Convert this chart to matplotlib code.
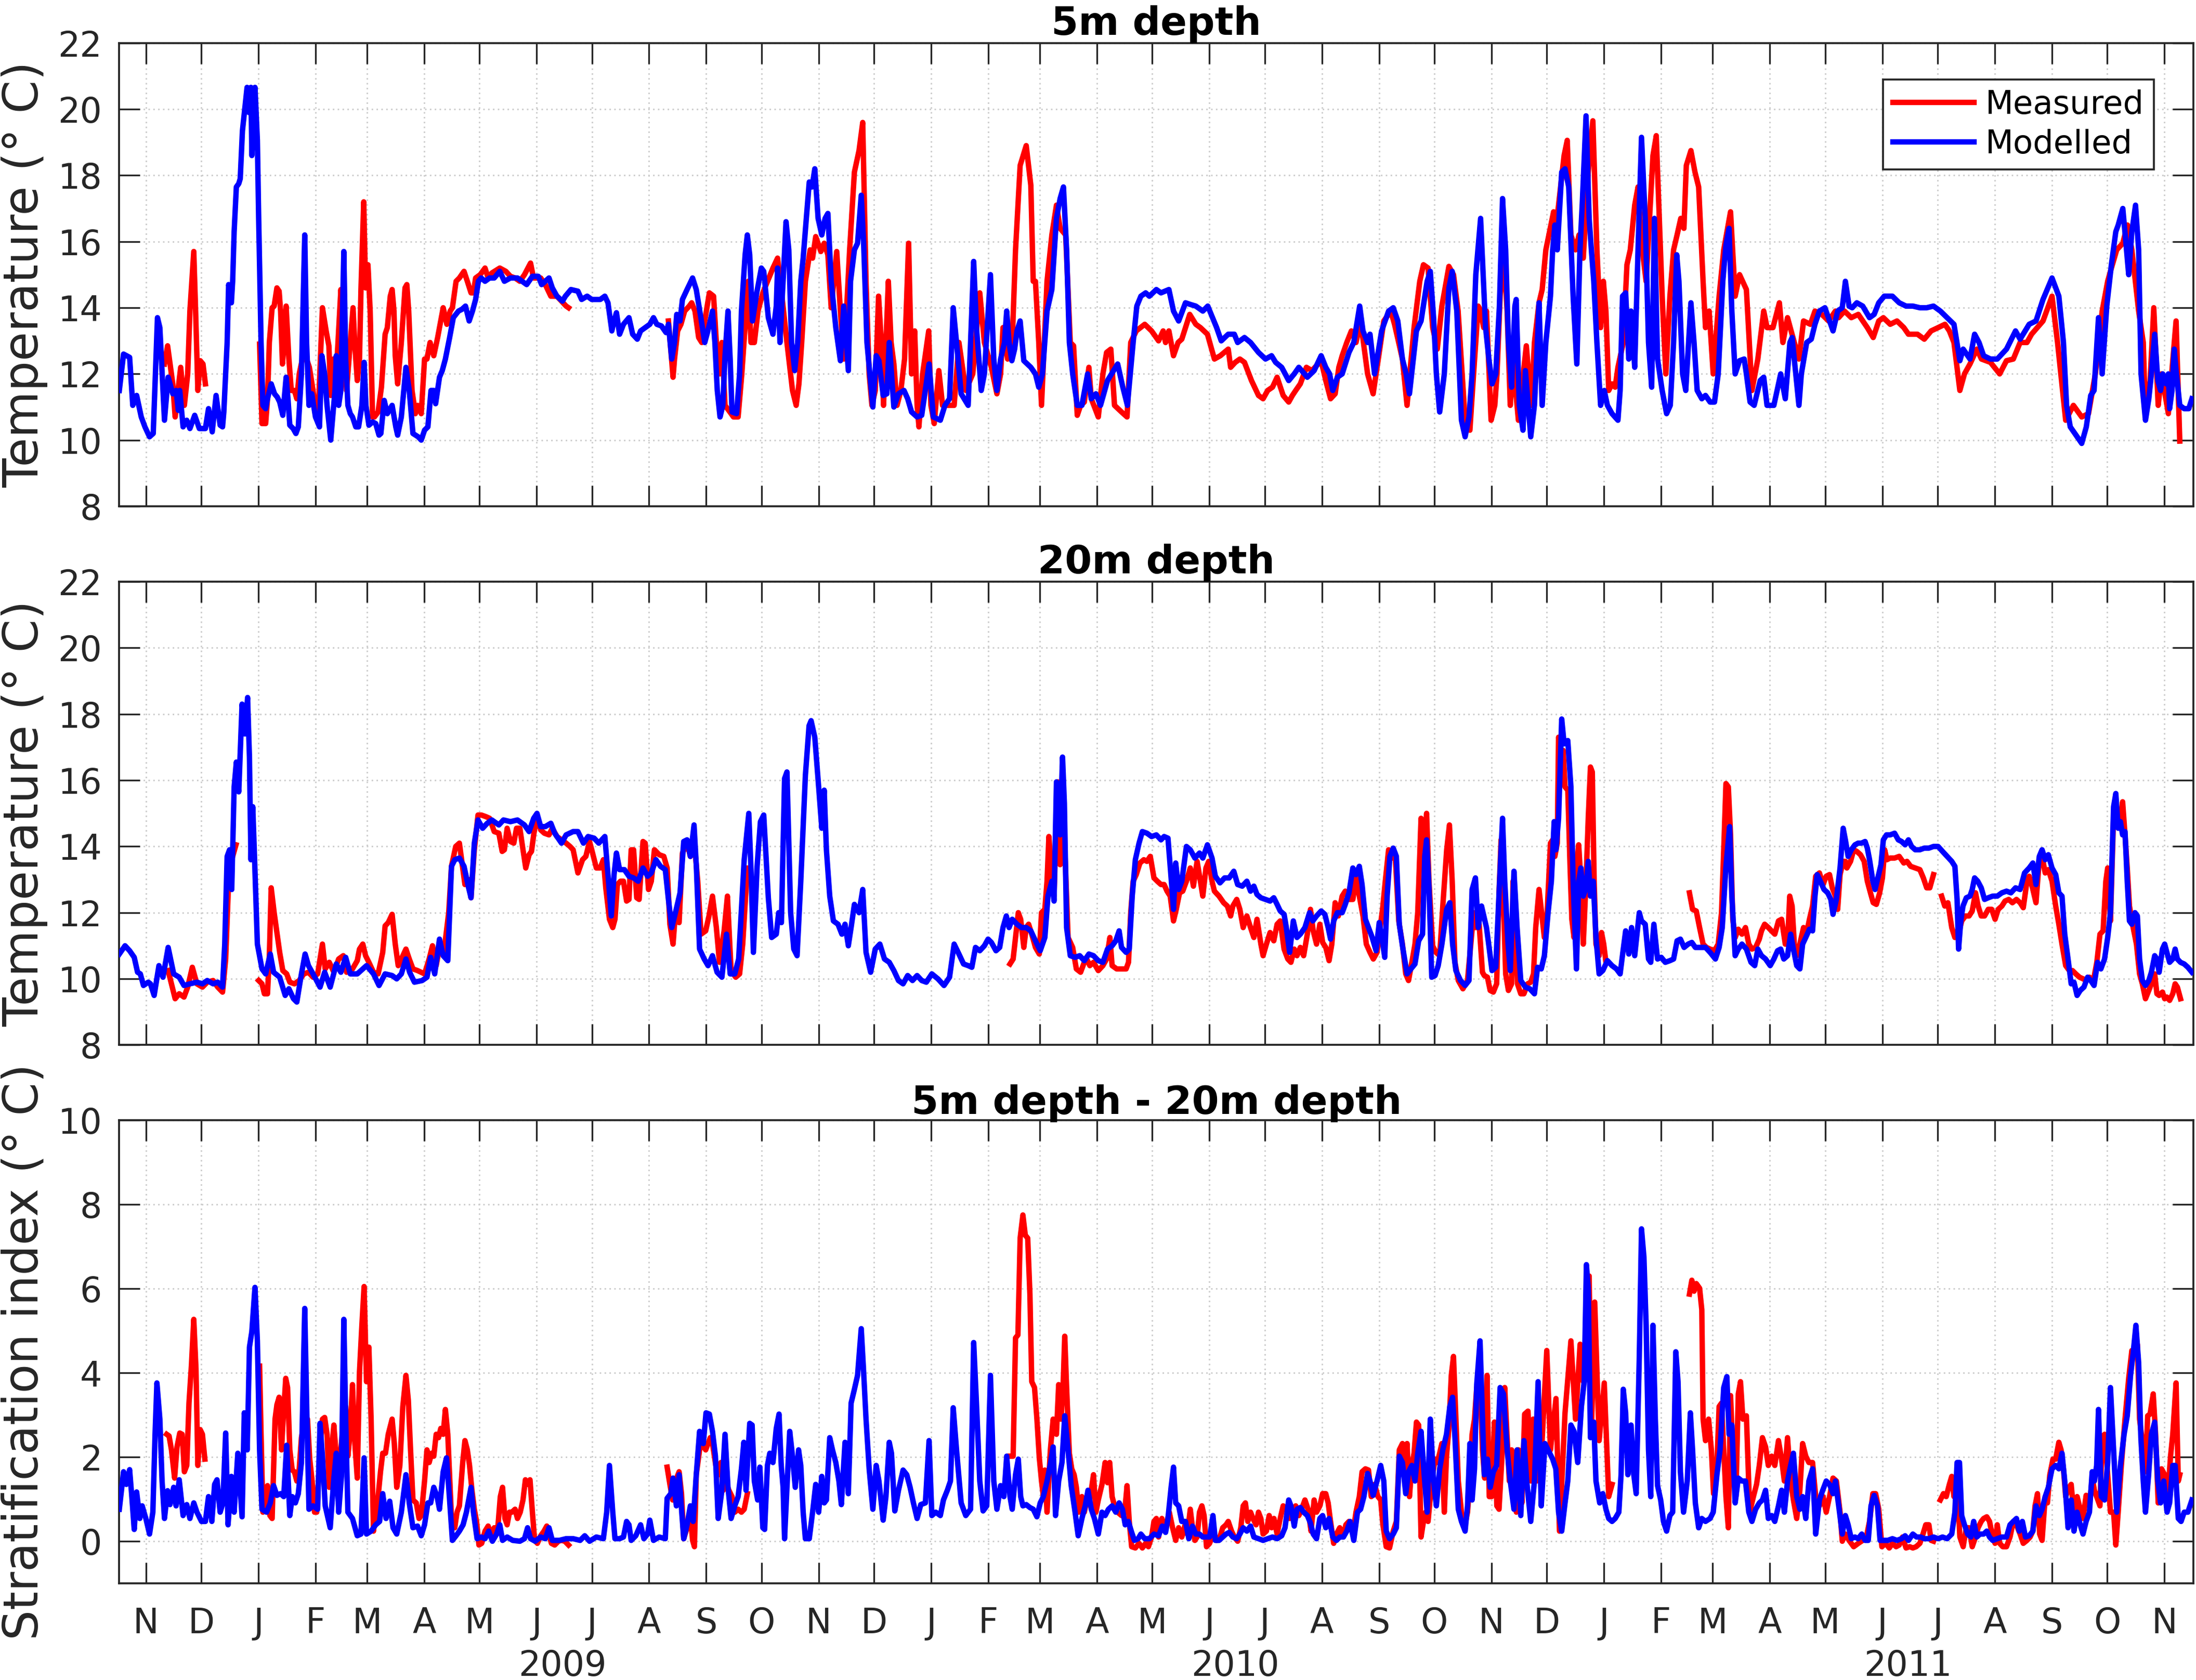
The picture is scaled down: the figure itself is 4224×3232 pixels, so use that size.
import datetime as dt
import numpy as np
import matplotlib
matplotlib.use("Agg")
import matplotlib.pyplot as plt
from matplotlib.transforms import blended_transform_factory

plt.rcParams['font.family'] = ['DejaVu Sans']

# ---------------- data: (days since 2008-11-01, value); None = no data -------------
mod5 = [(-14.4,11.5),(-12.1,12.6),(-8.8,12.5),(-7.1,11.05),(-5.0,11.35),(-2.5,10.7),(-0.5,10.4),(2.0,10.1),(4.0,10.2),(6.3,13.7),(7.6,13.4),(10.1,10.6),(12.1,11.9),(14.6,11.4),(16.4,11.5),(17.6,10.9),(18.4,11.5),(20.2,10.4),(22.2,10.6),(23.9,10.35),(26.5,10.75),(29.0,10.35),(32.3,10.35),(34.0,10.95),(36.0,10.25),(38.1,11.35),(40.3,10.45),(41.6,10.4),(42.3,10.85),(43.3,12.0),(44.1,12.95),(44.9,14.7),(46.4,14.15),(47.1,14.8),(47.9,16.3),(49.1,17.65),(50.4,17.75),(51.2,17.9),(52.4,19.35),(54.9,20.66),(55.9,19.9),(57.0,20.66),(57.5,18.6),(59.2,20.66),(60.5,19.06),(61.2,16.7),(62.5,12.95),(63.5,11.05),(65.0,10.95),(66.0,11.25),(68.0,11.7),(69.8,11.4),(71.3,11.3),(72.6,11.15),(74.3,10.75),(76.1,11.9),(77.1,11.25),(78.1,10.45),(79.9,10.35),(81.4,10.2),(82.7,10.4),(84.4,12.0),(86.2,16.2),(87.2,12.95),(88.5,11.05),(90.0,11.4),(92.0,10.7),(94.2,10.4),(95.5,12.55),(97.0,12.0),(98.3,11.05),(100.3,10.0),(102.6,11.5),(103.3,12.55),(104.6,11.05),(105.8,11.5),(107.4,15.7),(108.4,12.45),(109.6,11.05),(110.9,10.8),(112.1,10.7),(113.9,10.4),(115.4,10.4),(117.2,11.05),(118.4,12.35),(119.4,11.05),(121.0,10.45),(123.0,10.55),(124.7,10.5),(126.5,10.15),(127.5,10.2),(129.3,11.2),(131.0,10.8),(133.6,11.05),(135.6,10.4),(136.6,10.15),(138.6,10.7),(141.1,12.2),(142.9,11.5),(144.9,10.2),(147.7,10.1),(149.4,10.0),(151.2,10.3),(153.0,10.4),(154.7,11.5),(156.2,11.5),(157.2,11.1),(159.3,11.9),(160.8,12.1),(162.5,12.45),(164.8,13.1),(166.8,13.7),(169.6,13.9),(171.4,13.95),(173.4,14.05),(175.4,13.6),(177.2,13.9),(178.9,14.25),(180.4,14.8),(181.9,14.9),(184.0,14.8),(186.5,14.9),(189.0,14.9),(192.0,15.1),(194.5,14.8),(197.8,14.9),(201.6,14.9),(204.1,14.8),(206.6,14.7),(209.7,14.95),(212.9,14.95),(214.7,14.7),(218.7,14.9),(220.5,14.6),(223.0,14.35),(226.0,14.2),(227.6,14.35),(230.6,14.55),(234.4,14.5),(236.4,14.25),(239.4,14.35),(241.9,14.25),(246.5,14.25),(249.0,14.35),(250.7,14.15),(252.8,13.3),(254.0,13.6),(255.3,13.85),(257.0,13.2),(259.1,13.5),(262.1,13.7),(264.1,13.2),(266.6,13.05),(268.4,13.3),(270.9,13.4),(273.4,13.5),(275.4,13.7),(277.2,13.5),(279.7,13.45),(282.2,13.25),(283.5,13.5),(285.3,12.45),(286.8,12.95),(288.0,13.8),(289.8,13.6),(291.1,14.25),(293.6,14.55),(296.6,14.9),(298.6,14.55),(301.1,13.7),(303.2,12.95),(304.9,13.3),(307.4,13.9),(308.7,12.95),(310.0,11.5),(311.5,10.7),(313.0,11.05),(314.2,12.55),(315.8,13.9),(317.0,12.45),(318.0,10.85),(320.5,10.8),(322.1,12.0),(323.1,13.9),(325.1,15.6),(326.3,16.2),(327.6,15.6),(329.1,13.6),(331.4,14.45),(333.9,15.2),(335.2,15.1),(337.7,13.7),(340.2,13.2),(342.0,14.05),(342.7,15.2),(344.0,12.95),(345.7,14.8),(347.3,16.6),(348.8,15.75),(350.3,12.95),(352.0,12.1),(353.6,12.95),(355.3,14.8),(356.6,15.5),(358.3,16.7),(359.9,17.8),(361.4,17.65),(362.9,18.2),(364.7,16.7),(366.7,16.2),(368.5,16.7),(370.0,16.85),(371.8,14.8),(374.3,13.4),(376.8,12.4),(378.6,14.05),(381.1,12.1),(382.3,14.8),(384.4,15.75),(386.1,15.95),(388.1,17.4),(389.4,15.95),(391.2,12.95),(394.4,11.0),(396.2,12.55),(397.7,12.4),(400.0,11.35),(402.0,11.4),(403.3,12.95),(405.8,11.0),(408.3,11.4),(411.3,11.5),(413.3,11.25),(415.4,10.85),(418.4,10.7),(420.9,10.75),(424.9,12.3),(427.2,10.7),(431.0,10.6),(433.5,11.05),(436.0,11.25),(438.0,14.0),(439.8,12.95),(442.3,11.4),(446.1,11.05),(449.1,15.4),(450.6,13.4),(453.2,11.5),(454.9,12.0),(458.2,15.0),(460.0,12.45),(461.7,11.5),(463.7,12.45),(465.8,12.95),(467.0,13.9),(468.3,12.95),(469.8,12.4),(471.3,12.75),(472.6,13.3),(474.3,13.6),(476.3,12.4),(480.1,12.2),(482.6,12.0),(484.4,11.6),(486.4,12.0),(488.9,13.9),(491.5,14.55),(494.0,16.7),(496.0,17.3),(497.8,17.65),(499.5,15.75),(501.0,12.95),(502.8,12.0),(505.3,11.05),(507.8,11.05),(510.9,12.0),(512.9,11.25),(515.4,11.4),(517.9,11.05),(521.7,11.8),(527.2,12.3),(530.0,11.6),(532.5,11.05),(535.6,12.95),(537.6,14.05),(539.8,14.35),(542.4,14.45),(544.4,14.35),(548.2,14.55),(550.7,14.45),(555.0,14.55),(557.5,13.9),(560.3,13.6),(564.0,14.15),(566.6,14.1),(569.6,14.05),(573.4,13.9),(576.1,14.05),(580.9,13.4),(583.4,13.0),(587.2,13.2),(590.5,13.2),(592.3,12.95),(596.0,13.1),(599.3,12.95),(603.6,12.65),(607.4,12.45),(610.7,12.55),(612.9,12.35),(616.2,12.2),(620.0,11.8),(623.0,12.0),(625.5,12.2),(630.1,11.9),(633.8,12.1),(637.6,12.55),(640.1,12.2),(642.2,12.0),(643.9,11.5),(646.4,11.9),(649.0,12.0),(652.7,12.65),(655.3,12.95),(658.5,14.05),(660.3,13.3),(662.8,12.95),(664.1,13.2),(666.6,12.0),(670.4,13.3),(674.2,13.9),(676.7,14.0),(679.2,13.6),(681.7,12.45),(683.7,12.0),(685.5,11.4),(689.3,13.3),(691.8,13.6),(695.1,14.8),(696.8,15.1),(698.6,13.7),(700.1,12.0),(701.9,10.85),(704.4,12.0),(706.9,14.6),(708.7,15.1),(711.2,13.9),(713.7,10.6),(715.7,10.1),(717.8,10.7),(719.5,12.0),(721.5,15.0),(724.1,16.7),(726.8,13.4),(728.6,12.45),(730.3,11.7),(732.3,12.0),(734.3,14.05),(736.0,17.3),(737.7,15.75),(739.2,12.95),(740.9,11.6),(742.7,14.05),(743.4,14.25),(745.1,11.05),(747.1,10.3),(748.4,12.1),(751.3,10.1),(753.3,11.05),(754.5,12.45),(755.8,14.15),(757.5,11.05),(759.5,12.95),(762.0,14.35),(763.2,15.75),(764.4,16.5),(765.7,15.75),(768.1,18.1),(769.9,18.2),(771.9,17.65),(774.3,14.35),(776.3,12.3),(778.0,15.75),(779.3,17.2),(781.3,19.8),(783.0,16.7),(784.2,15.75),(785.5,14.8),(787.2,12.95),(789.2,11.05),(791.2,11.5),(792.9,11.05),(795.4,10.8),(798.6,10.6),(799.8,11.5),(801.1,14.35),(802.8,14.45),(804.5,12.45),(805.7,13.9),(807.7,12.2),(809.5,15.75),(811.4,19.15),(813.4,16.7),(815.2,12.95),(816.9,11.6),(818.4,16.7),(820.1,12.45),(822.6,11.5),(825.0,10.8),(827.0,11.05),(828.8,12.95),(830.5,15.6),(831.7,14.8),(833.7,12.0),(835.4,11.5),(838.2,14.15),(839.9,12.95),(841.6,11.5),(844.1,11.25),(846.1,11.35),(848.6,11.15),(851.0,11.15),(853.0,12.0),(855.5,14.8),(857.2,15.9),(858.9,16.4),(860.4,13.9),(862.2,12.0),(864.6,12.4),(867.1,12.45),(868.3,12.0),(870.3,11.15),(872.5,11.05),(875.8,11.8),(877.7,11.9),(879.5,11.05),(883.2,11.05),(886.9,12.0),(889.4,11.25),(891.9,12.95),(893.1,13.1),(896.8,11.05),(898.1,12.0),(901.0,12.95),(903.5,13.05),(905.5,13.5),(907.9,13.9),(910.9,14.0),(915.3,13.3),(917.8,13.9),(920.3,14.0),(922.0,14.8),(924.0,14.05),(925.7,14.0),(928.2,14.15),(931.4,14.05),(935.1,13.7),(937.6,13.8),(940.1,14.15),(943.1,14.35),(947.5,14.35),(951.2,14.15),(954.9,14.05),(958.6,14.05),(962.4,14.0),(966.1,14.0),(969.8,14.05),(973.5,13.9),(977.2,13.7),(980.9,13.5),(984.1,12.4),(985.9,12.75),(989.6,12.45),(992.1,13.2),(994.5,12.95),(997.0,12.55),(1000.7,12.45),(1004.4,12.45),(1009.4,12.75),(1014.3,13.3),(1016.8,13.05),(1021.7,13.5),(1025.4,13.6),(1029.2,14.25),(1034.1,14.9),(1037.8,14.35),(1040.3,12.95),(1042.0,11.05),(1044.0,10.4),(1046.5,10.2),(1050.2,9.9),(1052.7,10.4),(1055.1,11.35),(1056.9,11.5),(1059.3,13.7),(1061.3,12.0),(1063.8,14.05),(1066.3,15.3),(1068.7,16.3),(1070.0,16.5),(1072.5,17.0),(1074.2,15.95),(1075.7,15.0),(1077.4,16.3),(1079.4,17.1),(1081.1,15.75),(1082.4,12.0),(1084.8,10.6),(1086.6,11.25),(1088.0,12.0),(1089.8,13.2),(1091.5,11.8),(1093.0,11.5),(1094.2,12.0),(1096.0,11.7),(1097.2,12.0),(1097.9,10.95),(1099.2,11.5),(1100.4,12.75),(1101.4,12.1),(1103.4,11.05),(1105.8,10.95),(1108.3,10.95),(1110.0,11.25)]

meas5 = [(10.1,12.3),(11.8,12.85),(13.4,12.2),(14.6,11.7),(15.9,10.7),(17.1,11.35),(18.9,12.2),(20.9,11.05),(22.7,12.0),(23.9,13.9),(26.0,15.7),(27.0,13.9),(28.2,11.5),(29.5,12.4),(31.0,12.3),(32.3,11.7),(47.0,None),(61.7,12.9),(63.0,10.5),(65.0,10.5),(66.0,11.25),(67.0,12.95),(68.5,14.0),(69.6,14.05),(71.1,14.6),(72.3,14.5),(73.1,13.9),(74.1,12.3),(75.1,12.95),(76.1,14.05),(77.6,12.45),(78.9,11.5),(80.6,11.5),(81.9,11.25),(83.2,12.0),(84.9,12.45),(87.2,12.45),(88.7,12.2),(90.7,11.5),(92.2,10.7),(93.7,11.05),(95.8,14.0),(97.8,13.3),(99.3,12.85),(100.3,11.35),(101.8,12.45),(103.3,12.0),(105.8,14.55),(107.1,13.3),(108.9,11.5),(110.9,12.95),(112.4,14.0),(113.4,12.85),(114.7,11.8),(115.9,12.45),(116.7,14.55),(118.2,17.2),(119.2,14.6),(120.5,15.3),(121.7,13.9),(123.0,10.7),(124.0,10.7),(126.0,10.85),(127.8,11.6),(129.8,13.2),(131.0,13.4),(132.6,14.35),(133.6,14.55),(134.6,13.9),(135.3,12.55),(136.6,11.7),(138.6,12.95),(140.6,14.6),(141.6,14.7),(142.6,13.9),(144.4,11.5),(146.2,10.8),(147.4,11.05),(149.4,10.8),(151.2,12.45),(152.5,12.45),(154.2,12.95),(156.2,12.55),(158.3,13.1),(161.3,14.0),(163.3,13.5),(165.1,13.9),(166.3,14.0),(168.3,14.8),(170.1,14.9),(172.6,15.1),(174.4,14.8),(176.4,14.45),(177.7,14.45),(178.9,14.9),(181.4,15.0),(184.0,15.2),(185.7,14.9),(187.7,15.05),(192.0,15.2),(195.3,15.1),(197.8,14.95),(200.3,14.9),(202.9,14.8),(205.4,15.0),(208.7,15.35),(210.3,14.9),(214.2,14.9),(216.7,14.7),(219.7,14.35),(223.0,14.35),(228.0,14.05),(229.3,14.0),(250.0,None),(283.5,13.6),(286.0,11.9),(286.8,12.45),(288.5,13.3),(290.3,13.5),(292.3,13.9),(294.8,14.05),(296.1,14.15),(297.9,13.9),(299.9,13.1),(301.6,12.95),(303.2,13.6),(305.7,14.45),(308.0,14.35),(309.5,12.95),(311.2,12.0),(312.5,12.95),(314.2,11.05),(318.8,10.7),(321.3,10.7),(323.3,12.0),(326.8,14.8),(328.3,12.95),(330.1,12.95),(332.1,13.9),(334.7,14.45),(340.2,15.2),(342.7,15.5),(344.7,14.55),(347.8,12.95),(350.8,11.5),(352.8,11.05),(354.3,11.7),(355.8,12.95),(357.8,14.8),(360.4,15.75),(361.7,15.5),(363.4,16.15),(366.2,15.7),(368.0,15.95),(370.0,15.6),(371.8,14.0),(374.8,15.7),(376.8,13.9),(378.6,12.45),(380.1,13.9),(381.8,15.75),(384.4,18.1),(386.9,18.75),(388.9,19.6),(390.7,14.8),(392.4,12.0),(393.9,11.05),(395.7,11.5),(397.5,14.35),(399.0,12.95),(400.2,11.05),(402.8,14.8),(404.3,12.95),(405.8,12.3),(407.5,11.05),(409.6,11.5),(411.6,12.45),(413.8,15.95),(415.4,12.0),(417.1,13.3),(418.4,11.05),(419.4,10.4),(421.4,12.0),(424.7,13.3),(425.9,11.05),(427.7,10.5),(430.2,12.1),(432.2,11.05),(436.0,11.05),(438.5,11.05),(441.1,12.95),(444.8,11.5),(448.6,12.0),(452.4,14.45),(454.9,12.95),(458.7,12.2),(461.7,11.4),(463.7,12.0),(465.0,13.4),(467.5,12.45),(470.0,12.95),(471.8,15.75),(474.3,18.3),(477.6,18.9),(480.1,17.7),(481.4,14.8),(482.6,14.8),(484.4,12.95),(485.9,11.05),(488.9,14.8),(491.5,16.2),(494.0,17.1),(496.0,16.4),(499.0,16.2),(501.5,12.95),(503.3,12.85),(505.3,10.75),(507.1,11.05),(509.1,11.15),(511.6,12.2),(512.9,11.25),(516.7,10.7),(519.2,12.0),(521.2,12.65),(523.5,12.75),(525.5,11.05),(529.3,10.85),(532.3,10.7),(534.3,12.95),(537.3,13.3),(541.9,13.5),(545.6,13.3),(549.4,13.0),(551.9,13.3),(553.2,12.95),(555.0,13.3),(557.5,12.55),(560.0,12.95),(562.0,13.05),(566.3,13.8),(569.6,13.5),(572.1,13.4),(575.9,13.2),(579.7,12.45),(582.9,12.55),(587.2,12.75),(588.5,12.2),(591.0,12.35),(593.5,12.45),(596.0,12.35),(599.8,11.8),(603.6,11.35),(606.1,11.25),(608.6,11.5),(611.2,11.6),(613.7,11.9),(617.0,11.35),(620.0,11.15),(622.0,11.35),(623.8,11.5),(626.3,11.7),(629.6,12.2),(632.6,12.1),(637.6,12.4),(640.1,11.8),(642.7,11.25),(645.2,11.4),(647.2,12.2),(649.0,12.55),(651.5,12.95),(654.0,13.3),(656.5,12.95),(659.0,13.6),(662.8,12.0),(665.8,11.4),(668.6,12.45),(671.6,13.6),(675.4,13.9),(677.4,13.5),(681.7,12.45),(684.2,11.05),(686.0,12.2),(688.0,13.4),(691.1,14.8),(693.1,15.3),(695.6,15.2),(698.1,13.4),(700.6,12.75),(703.1,14.05),(706.9,15.25),(709.4,15.0),(711.9,13.9),(715.7,10.6),(718.3,10.3),(720.3,12.0),(722.8,14.05),(723.8,13.95),(725.8,13.4),(727.3,13.9),(729.8,10.6),(731.8,11.05),(733.0,12.0),(734.7,14.35),(736.5,15.75),(738.5,13.9),(740.2,11.05),(741.7,12.4),(744.6,10.6),(748.9,12.85),(751.6,11.05),(753.3,12.95),(755.8,14.15),(757.5,14.55),(759.5,15.75),(763.7,16.9),(765.2,16.5),(769.4,18.6),(771.1,19.06),(773.1,16.2),(775.6,15.75),(777.5,16.2),(779.8,15.5),(782.5,18.1),(785.0,19.65),(787.2,15.75),(789.2,13.4),(790.7,14.8),(792.1,13.9),(793.6,11.5),(795.4,11.7),(797.1,11.6),(798.6,12.2),(801.5,12.95),(803.5,15.3),(805.3,15.75),(807.7,17.1),(809.5,17.65),(811.4,15.95),(813.9,14.8),(817.6,18.6),(819.4,19.2),(822.6,14.35),(824.6,12.0),(826.8,14.35),(828.8,15.75),(830.7,16.2),(832.7,16.7),(834.4,16.4),(835.7,18.3),(838.2,18.75),(840.4,18.1),(842.4,17.65),(844.8,14.8),(846.1,13.4),(848.1,13.9),(850.3,12.0),(853.5,14.35),(856.0,15.75),(859.7,16.9),(862.2,14.35),(864.6,15.0),(868.3,14.55),(871.3,11.5),(874.5,12.45),(877.7,13.9),(879.5,13.4),(882.7,13.4),(886.2,14.15),(888.1,12.95),(890.6,13.7),(894.3,12.95),(896.8,12.45),(899.3,13.6),(903.0,13.5),(905.5,13.9),(909.2,13.8),(912.9,13.6),(916.6,13.9),(918.3,13.7),(921.5,13.9),(925.2,13.7),(929.0,13.8),(933.9,13.4),(937.1,13.1),(940.1,13.6),(942.6,13.7),(946.3,13.5),(950.0,13.6),(953.7,13.4),(956.2,13.2),(961.1,13.2),(964.8,13.05),(968.5,13.3),(972.3,13.4),(976.0,13.5),(978.4,13.3),(980.9,12.95),(984.1,11.5),(986.6,12.0),(989.6,12.3),(993.3,12.75),(995.8,12.45),(1000.7,12.35),(1005.7,12.0),(1009.4,12.4),(1013.1,12.45),(1016.8,12.95),(1020.5,12.95),(1023.0,13.2),(1029.2,13.6),(1034.1,14.35),(1037.1,12.95),(1041.5,10.6),(1045.7,11.05),(1050.2,10.7),(1053.9,10.8),(1057.6,12.0),(1061.3,13.9),(1064.3,14.8),(1066.3,15.2),(1069.2,15.75),(1072.5,15.95),(1075.0,16.5),(1077.4,15.75),(1081.1,13.9),(1083.6,12.95),(1084.8,10.7),(1087.3,11.8),(1089.3,14.0),(1091.7,11.05),(1093.5,12.0),(1097.2,10.8),(1101.4,13.6),(1103.4,9.97)]

mod20 = [(-14.4,10.75),(-11.3,11.0),(-8.8,10.85),(-6.3,10.65),(-4.5,10.2),(-3.0,10.15),(-1.3,9.8),(1.3,9.9),(2.5,9.85),(4.5,9.5),(7.1,10.4),(9.3,10.05),(12.1,10.95),(15.1,10.15),(18.1,10.05),(20.7,9.8),(23.9,9.85),(27.7,9.9),(30.7,9.85),(33.3,9.95),(36.5,9.85),(39.0,9.9),(41.6,9.75),(42.8,11.05),(44.1,13.7),(45.4,13.9),(46.6,12.7),(47.9,15.8),(49.1,16.55),(50.4,15.65),(52.2,18.3),(53.7,17.4),(55.2,18.5),(56.2,16.7),(57.0,13.6),(58.0,15.2),(59.0,13.6),(60.5,11.05),(63.0,10.3),(65.0,10.15),(67.5,10.75),(69.3,10.2),(72.6,10.05),(75.6,9.5),(77.6,9.7),(80.1,9.4),(81.9,9.3),(84.4,10.15),(86.4,10.75),(88.2,10.4),(90.7,10.15),(94.5,9.75),(97.0,10.2),(100.0,9.75),(103.3,10.45),(105.8,10.2),(108.4,10.65),(110.9,10.15),(114.7,10.15),(119.7,10.4),(123.5,10.15),(126.5,9.8),(129.8,10.15),(133.6,10.1),(136.1,10.0),(138.6,10.15),(141.1,10.6),(143.1,10.2),(145.7,9.9),(149.9,9.95),(152.5,10.05),(154.5,10.65),(156.7,10.15),(159.3,11.2),(161.3,10.7),(163.8,10.55),(165.8,13.4),(167.6,13.6),(170.1,13.65),(172.6,13.4),(175.1,12.75),(176.4,12.45),(178.2,14.1),(180.2,14.8),(182.7,14.55),(185.2,14.7),(187.7,14.8),(191.5,14.65),(194.0,14.8),(197.8,14.75),(201.6,14.8),(205.4,14.65),(207.9,14.45),(210.4,14.85),(212.2,15.0),(214.2,14.6),(216.7,14.6),(219.7,14.7),(221.8,14.4),(225.5,14.1),(228.0,14.35),(231.8,14.45),(234.4,14.45),(237.4,14.1),(239.9,14.3),(243.2,14.25),(245.7,14.1),(249.0,14.3),(250.7,13.15),(252.5,11.9),(254.0,13.15),(255.3,13.8),(257.0,13.3),(259.6,13.3),(262.1,13.1),(264.6,13.05),(267.1,12.95),(269.7,13.35),(272.2,13.1),(274.2,13.2),(276.7,13.6),(279.2,13.4),(281.8,13.3),(283.5,12.4),(285.3,11.55),(287.3,12.0),(289.8,12.6),(291.8,14.15),(293.6,14.2),(295.4,13.7),(297.4,14.65),(298.6,13.45),(300.4,10.9),(302.9,10.6),(305.0,10.4),(307.4,10.7),(309.9,10.2),(312.5,10.05),(315.0,11.35),(317.0,10.15),(319.5,10.15),(321.6,10.6),(324.6,13.6),(327.1,15.0),(328.3,13.3),(329.6,10.8),(331.6,13.4),(333.4,14.75),(335.2,14.95),(337.7,12.45),(339.5,11.25),(342.0,11.35),(343.3,12.0),(344.8,11.7),(346.5,16.05),(347.8,16.25),(349.8,12.0),(351.5,10.9),(353.3,10.7),(355.3,12.95),(357.8,16.15),(359.8,17.65),(360.9,17.8),(362.9,17.3),(365.0,15.8),(366.7,14.55),(368.0,15.7),(369.2,13.9),(371.0,12.5),(373.0,11.75),(375.5,11.65),(377.6,11.35),(379.3,11.65),(381.1,11.0),(382.6,11.55),(384.4,12.25),(386.9,12.0),(388.9,12.7),(390.7,10.8),(393.2,10.2),(395.7,10.9),(398.2,11.05),(400.7,10.6),(403.3,10.5),(405.8,10.25),(408.3,9.95),(410.8,9.85),(413.3,10.1),(415.9,9.95),(418.4,10.1),(420.9,9.95),(423.4,9.9),(426.4,10.15),(429.7,10.0),(433.0,9.8),(436.0,10.05),(438.5,11.05),(441.1,10.75),(443.6,10.45),(446.1,10.4),(448.1,10.35),(450.1,10.95),(452.4,10.85),(454.9,11.0),(456.9,11.2),(458.7,11.1),(461.2,10.85),(463.2,10.95),(465.0,11.55),(466.8,11.9),(468.3,11.55),(470.0,11.8),(472.6,11.65),(475.1,11.55),(477.6,11.55),(480.1,11.45),(482.6,11.15),(485.2,10.85),(487.7,11.25),(489.4,12.5),(491.5,12.95),(492.7,12.35),(494.0,15.95),(495.2,15.85),(496.0,14.35),(497.3,16.7),(498.3,15.3),(499.5,11.55),(501.5,10.7),(504.1,10.65),(506.6,10.7),(509.1,10.55),(511.6,10.75),(514.1,10.7),(516.7,10.55),(519.2,10.5),(521.7,10.9),(524.2,11.0),(526.2,11.15),(528.0,11.45),(529.3,10.95),(531.8,10.8),(533.5,10.9),(535.1,12.5),(536.8,13.6),(538.8,14.1),(540.6,14.45),(543.1,14.4),(545.6,14.3),(548.2,14.35),(550.7,14.2),(552.4,14.3),(554.5,14.25),(556.2,13.05),(557.5,12.1),(558.7,13.5),(560.3,12.7),(562.0,12.95),(564.5,14.0),(566.6,13.9),(569.1,13.65),(571.6,13.8),(573.4,13.65),(575.9,14.05),(578.4,13.65),(580.2,13.1),(582.7,12.9),(585.2,13.05),(587.7,13.05),(590.2,13.25),(592.3,12.85),(594.8,12.8),(597.3,12.95),(599.3,12.65),(601.1,12.8),(602.8,12.55),(604.9,12.45),(607.4,12.4),(609.9,12.35),(611.9,12.45),(613.7,12.25),(615.4,12.05),(617.5,11.95),(618.7,11.55),(620.5,10.8),(622.5,11.75),(624.5,11.25),(626.3,11.35),(628.8,11.55),(631.3,12.0),(633.1,11.75),(635.1,11.9),(637.6,12.05),(639.6,11.95),(641.4,11.55),(642.7,11.2),(644.4,11.75),(646.4,12.0),(649.0,12.0),(650.7,12.25),(652.7,12.6),(654.8,13.35),(656.5,13.15),(658.3,13.4),(659.8,12.85),(661.6,11.8),(663.3,11.55),(665.3,11.25),(667.4,10.85),(669.1,11.7),(670.9,11.1),(672.1,10.65),(673.4,12.5),(674.9,13.7),(676.7,13.95),(678.4,13.7),(680.0,11.65),(681.7,11.0),(684.2,10.15),(686.3,10.3),(688.5,10.45),(690.5,11.15),(692.6,11.35),(693.8,13.7),(694.8,14.2),(696.1,12.75),(697.6,10.05),(699.4,10.1),(701.1,10.4),(703.1,11.05),(705.7,12.1),(707.4,12.3),(708.9,11.05),(710.7,10.25),(713.2,9.95),(715.7,9.8),(717.8,9.95),(719.5,12.7),(721.3,13.05),(722.8,11.55),(724.6,12.2),(727.3,11.55),(728.6,11.0),(730.3,10.25),(732.3,10.35),(734.2,12.7),(736.0,14.85),(737.2,12.95),(739.0,11.05),(740.2,10.25),(742.2,13.25),(743.9,11.55),(745.9,9.95),(748.4,9.75),(750.8,9.7),(753.3,9.55),(755.0,10.35),(757.0,10.3),(758.7,10.7),(760.7,12.0),(762.5,12.95),(764.0,14.75),(765.0,13.9),(766.4,14.85),(768.1,17.85),(769.4,17.1),(771.4,17.2),(773.1,15.8),(774.3,12.95),(776.1,10.3),(777.3,12.95),(778.5,13.35),(779.8,12.5),(781.3,12.75),(782.5,13.55),(783.7,12.5),(785.2,12.95),(786.7,11.25),(788.4,10.15),(790.4,10.25),(792.9,10.55),(795.4,10.4),(797.8,10.3),(799.8,10.15),(801.5,10.9),(802.8,11.45),(804.5,10.75),(806.0,11.55),(807.7,10.7),(810.2,12.0),(811.4,11.75),(813.4,11.65),(815.2,10.6),(816.4,10.5),(818.1,11.65),(820.1,10.6),(822.1,10.65),(824.3,10.5),(826.8,10.55),(828.8,10.6),(830.7,11.15),(832.5,11.2),(834.5,10.95),(836.7,11.05),(838.7,11.1),(840.6,10.95),(843.6,10.95),(846.1,10.95),(848.6,10.8),(851.5,10.6),(853.5,10.95),(855.2,11.55),(857.2,13.4),(859.2,14.6),(860.4,12.5),(862.2,10.7),(863.9,10.9),(865.9,11.05),(868.3,10.9),(870.8,10.5),(872.8,10.4),(874.5,10.9),(876.5,10.7),(878.7,10.6),(881.2,10.4),(883.2,10.6),(885.2,10.85),(886.9,10.9),(888.6,10.6),(890.6,10.7),(892.3,11.35),(893.8,10.9),(895.6,10.4),(897.3,10.3),(898.8,11.05),(900.5,11.25),(902.5,11.5),(904.2,11.45),(905.5,12.5),(906.7,13.15),(908.4,12.95),(910.4,12.7),(912.4,12.6),(914.1,12.4),(915.3,11.95),(917.1,12.4),(919.1,13.35),(920.8,14.55),(922.0,14.2),(923.5,13.7),(925.2,13.9),(927.2,14.05),(928.9,14.1),(930.7,14.1),(932.7,14.15),(933.9,13.95),(935.1,13.6),(936.9,12.95),(938.1,12.7),(939.6,13.05),(941.3,13.45),(942.6,14.2),(944.3,14.35),(946.3,14.35),(948.7,14.4),(950.7,14.2),(952.5,14.15),(954.4,14.05),(956.2,14.2),(957.9,14.0),(959.9,13.9),(962.4,13.9),(964.8,13.95),(967.3,13.95),(969.8,14.0),(972.3,14.0),(974.7,13.85),(977.2,13.7),(979.7,13.55),(981.4,13.4),(982.6,12.4),(983.4,10.9),(984.6,11.75),(985.8,12.2),(987.6,12.45),(989.6,12.5),(990.8,12.7),(992.1,13.05),(993.8,12.95),(995.7,12.75),(997.5,12.4),(999.5,12.45),(1001.9,12.5),(1004.4,12.5),(1006.9,12.6),(1009.4,12.65),(1011.8,12.6),(1014.3,12.75),(1016.8,12.7),(1019.2,13.2),(1021.7,13.35),(1023.7,13.5),(1025.4,12.85),(1027.2,13.7),(1028.7,13.9),(1030.4,13.6),(1032.1,13.75),(1034.1,13.35),(1036.1,13.15),(1037.8,12.6),(1039.5,12.5),(1041.0,11.35),(1042.8,10.6),(1044.5,9.85),(1046.0,9.9),(1047.7,9.5),(1049.4,9.65),(1051.4,9.75),(1053.4,10.05),(1055.1,9.95),(1056.9,9.8),(1058.8,10.5),(1060.6,10.3),(1062.6,10.6),(1064.3,11.25),(1065.8,12.0),(1067.5,15.2),(1068.7,15.6),(1070.0,14.55),(1071.2,14.75),(1072.4,14.35),(1073.7,14.45),(1074.9,12.95),(1076.1,11.75),(1077.4,11.65),(1079.1,12.0),(1080.4,11.9),(1081.6,10.6),(1083.1,9.95),(1084.8,9.8),(1086.6,9.95),(1088.0,10.2),(1089.8,10.7),(1091.0,10.6),(1092.2,10.2),(1094.0,10.9),(1095.2,11.05),(1096.4,10.8),(1097.9,10.5),(1099.6,10.6),(1100.9,10.9),(1102.1,10.6),(1103.8,10.5),(1105.8,10.45),(1107.8,10.35),(1110.0,10.2)]

meas20 = [(12.1,10.25),(13.9,9.85),(15.9,9.4),(18.1,9.55),(20.7,9.45),(22.7,9.75),(25.2,10.35),(27.7,9.85),(30.7,9.75),(33.3,9.9),(36.5,9.95),(39.0,9.75),(41.6,9.6),(43.3,10.6),(44.9,12.95),(46.6,13.6),(48.9,14.05),(55.0,None),(61.2,9.95),(63.0,9.85),(64.3,9.55),(66.0,9.55),(67.0,10.7),(68.0,12.75),(69.6,12.0),(71.1,11.4),(72.6,10.8),(74.3,10.25),(76.4,10.15),(78.1,9.9),(80.6,9.85),(83.2,9.95),(85.7,10.15),(88.2,10.2),(90.7,10.05),(93.2,10.15),(95.8,11.05),(97.3,10.3),(99.5,10.5),(102.0,10.2),(104.6,10.6),(107.1,10.7),(108.9,10.2),(112.1,10.3),(114.7,10.55),(115.9,10.9),(117.7,11.05),(119.2,10.7),(121.0,10.5),(123.5,10.2),(126.0,10.15),(128.5,10.8),(129.8,11.6),(131.5,11.7),(133.6,11.95),(135.3,11.05),(136.9,10.4),(138.6,10.6),(141.1,10.9),(142.9,10.6),(144.9,10.3),(147.4,10.25),(151.2,10.15),(153.7,10.6),(155.5,11.0),(157.5,10.4),(159.3,10.95),(161.8,10.85),(164.3,12.0),(165.8,13.4),(168.1,14.0),(170.1,14.1),(171.9,13.35),(173.1,12.85),(175.1,13.0),(176.4,12.45),(178.2,13.9),(180.2,14.95),(182.0,14.95),(184.5,14.9),(186.5,14.85),(189.0,14.45),(191.5,14.4),(193.3,13.85),(194.5,13.9),(196.0,14.55),(197.8,14.15),(199.6,14.1),(201.1,14.55),(202.9,14.55),(204.6,13.9),(206.1,13.35),(207.9,13.75),(209.2,13.85),(210.4,14.35),(212.2,14.95),(214.2,14.5),(216.2,14.4),(218.7,14.35),(220.5,14.55),(223.0,14.3),(225.5,14.2),(228.0,14.1),(230.1,14.0),(231.8,13.9),(234.4,13.2),(236.9,13.6),(238.7,13.7),(240.7,14.15),(241.9,13.9),(244.4,13.35),(246.5,13.35),(248.2,13.6),(249.5,12.75),(251.5,11.8),(253.3,11.55),(254.5,11.8),(255.8,12.85),(257.5,12.95),(259.1,12.95),(260.8,12.35),(262.1,12.4),(263.3,13.9),(264.6,13.9),(266.3,12.45),(267.6,12.4),(269.7,14.15),(270.9,14.1),(272.7,12.7),(274.2,12.95),(275.9,13.9),(278.5,13.75),(281.0,13.7),(282.8,13.35),(284.3,11.65),(286.0,11.05),(287.3,12.0),(289.3,11.7),(291.1,13.8),(293.6,14.1),(295.4,13.7),(297.4,14.2),(299.4,12.95),(301.2,11.35),(303.7,11.45),(305.5,11.9),(307.4,12.5),(309.5,11.55),(311.2,10.5),(313.7,11.45),(315.5,12.5),(317.5,10.25),(320.0,10.05),(322.1,10.15),(323.8,11.05),(326.3,13.35),(328.9,12.95),(330.0,None),(468.8,10.45),(470.5,10.6),(471.8,11.25),(473.3,12.0),(474.6,11.8),(476.3,10.95),(477.6,11.55),(478.9,11.65),(480.6,11.35),(482.6,10.95),(484.7,10.75),(485.9,12.0),(487.7,12.1),(488.9,12.95),(489.9,14.3),(491.0,13.45),(492.7,12.5),(494.0,14.85),(494.7,15.95),(496.0,13.45),(497.3,16.0),(498.5,14.0),(500.3,11.25),(502.8,10.95),(504.8,10.3),(507.1,10.2),(509.1,10.5),(510.4,10.6),(512.1,10.4),(514.1,10.5),(516.7,10.25),(519.2,10.4),(521.2,10.6),(523.0,11.25),(524.2,10.4),(526.7,10.3),(529.3,10.3),(531.8,10.3),(533.1,10.5),(534.3,12.0),(535.6,12.95),(537.3,13.15),(539.3,13.5),(541.4,13.6),(543.1,13.55),(544.9,13.7),(546.9,13.05),(548.7,12.95),(550.7,12.85),(552.4,12.85),(554.0,12.65),(555.7,12.5),(557.5,11.75),(559.0,12.1),(560.8,12.6),(562.5,12.65),(564.5,12.95),(566.6,13.35),(568.3,12.8),(570.3,13.55),(572.1,12.95),(573.4,12.5),(575.1,13.35),(576.6,13.55),(578.4,12.95),(579.7,12.65),(582.2,12.5),(584.7,12.3),(586.7,12.2),(588.5,11.9),(589.7,12.2),(591.8,12.4),(593.5,12.1),(595.3,11.55),(597.3,11.9),(599.3,11.55),(601.1,11.25),(602.8,11.8),(604.9,11.05),(606.1,10.7),(607.9,11.05),(609.9,11.4),(611.9,11.15),(613.7,11.65),(615.4,11.75),(617.5,10.9),(619.5,10.6),(621.2,10.5),(623.0,10.9),(624.5,10.7),(626.3,10.95),(628.1,10.7),(630.1,11.35),(631.8,12.1),(633.3,11.45),(635.1,11.05),(636.9,11.65),(638.4,11.1),(640.1,10.95),(641.9,10.55),(643.4,11.05),(645.2,12.3),(646.9,11.9),(649.0,12.5),(650.7,12.65),(652.7,12.4),(654.8,12.4),(656.5,13.05),(658.3,12.5),(660.3,11.9),(662.1,11.05),(664.1,10.8),(665.9,10.6),(667.9,10.8),(669.6,11.55),(670.9,12.1),(672.4,12.95),(674.2,13.9),(675.9,13.7),(677.9,13.6),(679.7,11.75),(681.7,11.05),(683.5,10.15),(685.0,9.95),(686.8,10.5),(688.5,11.05),(690.0,12.0),(691.8,14.85),(693.5,13.9),(694.8,15.0),(696.1,12.95),(698.1,11.0),(699.9,10.8),(701.9,10.7),(703.6,12.2),(705.7,13.9),(707.2,14.65),(708.7,12.95),(710.2,10.5),(712.0,9.95),(714.5,9.7),(717.0,9.95),(718.8,11.05),(720.3,12.0),(721.5,11.55),(723.3,11.65),(725.1,10.2),(726.1,10.1),(727.8,10.05),(729.3,9.65),(731.0,9.6),(732.8,9.85),(734.2,12.75),(735.2,14.2),(736.2,12.95),(737.7,10.15),(739.2,9.65),(740.9,9.85),(741.7,12.95),(742.7,12.0),(744.1,9.85),(745.9,9.55),(747.6,9.55),(749.6,9.85),(751.3,9.9),(752.8,10.15),(754.0,11.55),(755.8,12.7),(757.0,12.1),(758.7,11.25),(760.2,12.0),(762.0,14.1),(763.2,14.2),(764.4,13.7),(765.7,14.1),(766.4,17.3),(767.7,16.7),(768.9,16.9),(769.9,15.8),(771.4,15.7),(772.6,13.45),(773.6,11.8),(774.8,11.25),(776.1,13.35),(777.3,14.05),(778.5,12.95),(779.8,11.05),(781.3,12.95),(782.5,14.85),(783.7,16.4),(784.7,16.25),(785.7,12.95),(786.7,11.05),(788.4,10.7),(789.7,11.4),(790.9,11.05),(792.1,10.5),(800.0,None),(837.4,12.6),(839.1,12.1),(841.1,12.05),(842.9,11.55),(844.8,11.05),(846.6,10.95),(848.6,10.9),(851.0,10.85),(853.0,11.05),(854.8,12.0),(856.0,13.9),(857.2,15.9),(858.5,15.8),(859.7,14.35),(860.9,11.8),(862.2,11.25),(863.9,11.5),(865.9,11.35),(867.8,11.55),(869.6,11.05),(871.3,10.9),(873.3,10.95),(875.3,11.2),(876.5,11.45),(878.2,11.65),(880.2,11.55),(881.9,11.45),(883.7,11.35),(885.7,11.75),(887.4,11.8),(889.4,11.05),(890.6,11.05),(891.8,12.5),(893.1,12.2),(894.3,11.05),(895.6,10.7),(897.3,11.05),(899.3,11.55),(901.2,11.45),(902.5,11.8),(904.2,12.2),(905.9,13.1),(907.9,13.2),(909.9,12.85),(911.6,13.1),(913.4,13.15),(914.9,12.75),(916.6,12.5),(917.8,12.1),(919.1,13.15),(920.8,13.55),(922.0,13.55),(922.8,13.35),(924.8,13.55),(926.5,13.9),(928.2,13.85),(930.2,13.75),(932.2,13.55),(933.9,12.95),(935.6,12.6),(937.1,12.3),(938.8,12.25),(940.6,12.6),(942.1,13.05),(943.3,13.9),(944.5,13.6),(946.3,13.65),(948.7,13.65),(951.2,13.7),(953.7,13.5),(955.4,13.55),(957.4,13.4),(959.9,13.35),(962.4,13.3),(964.3,13.05),(966.1,12.75),(967.8,12.75),(969.8,13.15),(972.0,None),(974.2,12.5),(975.9,12.2),(977.6,12.3),(979.7,11.55),(981.4,11.25),(983.4,11.35),(985.1,11.75),(987.1,11.9),(989.1,11.9),(990.8,12.05),(992.6,12.6),(994.0,12.2),(995.7,11.9),(997.5,11.9),(999.5,12.1),(1001.4,12.1),(1003.2,11.8),(1004.9,12.1),(1006.9,12.2),(1008.6,12.35),(1010.6,12.4),(1012.6,12.3),(1014.8,12.4),(1016.8,12.3),(1018.5,12.15),(1020.5,12.95),(1021.7,13.1),(1023.5,12.75),(1025.4,12.3),(1027.2,13.6),(1028.7,13.7),(1030.4,13.2),(1032.1,13.3),(1034.1,12.95),(1036.1,12.2),(1037.8,11.65),(1039.5,11.05),(1041.5,10.4),(1043.5,10.25),(1045.2,10.25),(1047.0,10.15),(1049.0,10.05),(1051.0,10.0),(1052.6,9.95),(1054.4,10.05),(1056.4,9.9),(1058.4,10.5),(1060.1,11.35),(1061.8,11.45),(1063.3,12.95),(1064.3,13.35),(1065.8,11.75),(1067.5,14.95),(1068.7,15.35),(1070.0,14.85),(1071.2,14.65),(1072.4,15.35),(1073.7,14.35),(1074.9,13.35),(1076.1,12.2),(1078.1,11.55),(1079.9,11.05),(1081.6,10.15),(1083.1,9.85),(1084.8,9.4),(1086.6,9.65),(1088.0,9.85),(1089.8,10.15),(1091.0,9.55),(1092.2,9.5),(1094.0,9.6),(1095.2,9.4),(1096.4,9.45),(1097.9,9.35),(1099.6,9.55),(1100.9,9.85),(1102.1,9.75),(1103.8,9.4)]

modS = [(-14.4,0.76),(-12.1,1.65),(-10.6,1.35),(-8.8,1.7),(-7.6,1.05),(-6.3,0.28),(-5.0,1.17),(-3.3,0.54),(-2.0,0.84),(0.0,0.54),(2.0,0.17),(3.8,0.69),(5.0,2.54),(6.0,3.76),(7.6,2.9),(8.8,1.43),(10.1,0.54),(11.8,1.2),(13.1,0.87),(15.1,1.28),(16.4,0.84),(18.1,1.46),(20.2,0.61),(22.2,0.87),(23.9,0.54),(26.0,0.91),(27.7,0.69),(30.2,0.47),(32.3,0.47),(34.0,1.06),(35.8,0.47),(37.3,1.35),(38.6,1.46),(40.3,0.69),(41.8,0.91),(43.3,2.57),(44.6,0.39),(46.4,1.54),(47.9,0.69),(49.9,2.09),(52.2,0.58),(53.4,3.05),(55.0,2.17),(56.2,4.61),(57.5,4.98),(59.2,6.03),(60.5,4.76),(61.7,2.17),(63.0,0.76),(65.5,0.69),(67.5,0.91),(69.3,1.32),(71.1,1.09),(73.1,1.13),(74.8,1.06),(76.4,2.28),(78.1,0.61),(79.4,1.06),(81.1,0.91),(82.7,1.13),(84.4,1.87),(86.2,5.53),(87.4,2.9),(88.5,0.76),(90.7,0.84),(93.2,0.76),(94.5,2.8),(95.8,2.02),(97.3,0.84),(100.0,0.32),(102.0,1.5),(103.3,2.09),(104.6,0.69),(106.1,1.54),(107.4,5.27),(108.4,2.9),(109.6,0.69),(112.1,0.54),(114.7,0.13),(116.7,0.17),(118.4,1.98),(119.7,0.17),(122.2,0.24),(124.7,0.39),(126.8,0.47),(128.5,1.13),(130.3,0.54),(132.3,0.95),(134.1,0.32),(136.1,0.17),(138.6,0.69),(141.1,1.58),(142.9,0.91),(144.9,0.32),(147.4,0.36),(149.4,0.13),(151.2,0.39),(153.0,0.91),(154.5,0.91),(156.2,1.28),(158.0,1.06),(159.3,0.76),(161.3,1.65),(163.1,1.98),(164.3,1.28),(166.3,0.02),(168.3,0.13),(170.1,0.24),(172.1,0.39),(173.9,0.69),(176.4,1.28),(177.7,0.69),(179.7,0.06),(181.9,0.1),(184.0,0.06),(186.0,0.24),(188.0,0.0),(190.3,0.17),(192.0,0.39),(193.5,0.02),(196.0,0.1),(199.0,0.02),(202.9,0.0),(205.4,0.06),(207.1,0.32),(208.7,0.06),(211.2,0.0),(214.2,0.1),(216.7,0.06),(218.7,0.32),(220.5,0.02),(224.3,0.02),(228.0,0.06),(231.8,0.06),(235.6,0.02),(238.1,0.13),(240.7,0.0),(244.4,0.1),(248.2,0.06),(250.0,0.69),(251.5,1.8),(253.3,0.69),(254.5,0.06),(257.0,0.06),(259.1,0.1),(260.8,0.47),(262.1,0.39),(263.3,0.02),(265.8,0.13),(268.4,0.39),(270.2,0.06),(272.2,0.17),(273.4,0.5),(275.4,0.02),(278.5,0.1),(281.8,0.06),(282.8,1.02),(284.8,1.13),(286.0,1.5),(287.8,0.84),(289.3,1.58),(290.6,0.76),(291.8,0.06),(293.6,0.39),(295.4,0.84),(296.9,0.47),(298.6,1.58),(300.4,2.61),(302.4,2.32),(303.9,3.05),(305.7,3.02),(307.4,2.61),(309.0,2.02),(310.5,0.54),(312.5,1.21),(314.2,2.54),(315.8,1.28),(317.5,0.54),(319.5,0.84),(321.3,1.06),(323.1,1.72),(324.4,2.35),(325.6,1.21),(327.6,2.8),(328.9,2.76),(330.1,1.43),(331.9,0.98),(333.1,1.76),(334.7,0.32),(335.7,0.28),(337.2,1.8),(338.5,2.09),(340.2,1.87),(342.0,2.68),(343.5,3.02),(344.7,1.8),(345.7,1.28),(346.5,0.06),(347.8,1.28),(349.3,2.61),(350.8,2.02),(352.3,1.28),(354.1,2.17),(355.3,1.8),(356.6,0.69),(357.8,0.06),(359.9,0.06),(361.7,0.69),(363.4,1.35),(365.0,0.69),(366.7,1.54),(368.0,0.91),(369.2,0.98),(371.0,2.46),(372.5,2.17),(374.3,1.87),(376.0,1.43),(377.3,0.87),(379.3,2.35),(381.1,1.13),(382.6,3.28),(384.4,3.61),(386.1,3.94),(388.1,5.05),(389.4,4.02),(390.7,2.9),(392.4,1.72),(394.4,0.76),(396.2,1.8),(397.7,1.43),(400.0,0.5),(401.5,1.06),(403.3,2.35),(404.5,2.09),(406.3,0.72),(408.3,1.21),(410.8,1.69),(412.8,1.58),(414.6,1.28),(416.4,0.91),(418.4,0.54),(420.4,0.87),(422.9,0.91),(424.9,2.39),(426.4,0.61),(428.5,0.69),(431.0,0.61),(432.7,0.98),(434.8,1.21),(436.5,1.43),(438.0,3.17),(439.8,2.17),(442.3,0.91),(444.8,0.61),(447.4,0.76),(449.1,4.72),(450.6,3.28),(452.4,1.43),(454.2,0.72),(456.2,0.84),(458.2,3.94),(460.0,1.43),(461.7,0.76),(463.7,1.32),(465.5,1.06),(467.0,2.02),(468.8,1.06),(470.0,0.76),(471.8,1.58),(473.3,1.95),(474.6,1.06),(475.8,0.84),(477.6,0.87),(479.6,0.8),(481.4,0.76),(483.4,0.58),(485.2,0.91),(486.9,1.06),(488.9,1.43),(490.7,1.83),(492.2,2.24),(493.5,0.61),(495.2,1.43),(497.0,1.87),(498.5,2.98),(500.3,2.17),(502.0,1.32),(504.1,0.69),(505.8,0.13),(507.8,0.54),(509.6,0.84),(511.1,1.21),(512.9,0.76),(514.6,0.54),(516.7,0.17),(518.7,0.69),(520.4,0.61),(522.2,0.76),(524.2,0.84),(526.2,0.69),(528.0,0.91),(529.8,0.76),(531.3,0.39),(533.0,0.47),(534.8,0.21),(536.3,0.02),(538.3,0.06),(539.8,0.17),(541.9,0.06),(544.4,0.06),(546.9,0.17),(549.4,0.13),(551.4,0.36),(553.2,0.21),(554.5,0.54),(556.2,1.28),(557.5,1.76),(558.7,0.91),(560.3,0.84),(562.0,0.47),(564.0,0.47),(565.8,0.06),(567.8,0.36),(569.6,0.17),(571.6,0.17),(573.4,0.1),(575.1,0.1),(577.1,0.1),(578.9,0.61),(580.2,0.02),(582.2,0.02),(584.2,0.1),(586.0,0.17),(587.7,0.21),(589.7,0.1),(591.8,0.06),(593.5,0.17),(595.3,0.32),(597.3,0.24),(599.3,0.36),(601.1,0.1),(603.6,0.06),(606.1,0.02),(608.6,0.06),(611.2,0.1),(613.7,0.06),(616.2,0.13),(618.0,0.32),(620.0,0.98),(621.2,0.84),(623.0,0.36),(624.5,0.76),(626.3,0.8),(628.1,0.69),(630.1,0.61),(631.8,0.43),(633.3,0.17),(635.1,0.06),(636.9,0.54),(638.4,0.61),(640.1,0.32),(641.9,0.54),(643.9,0.1),(645.9,0.02),(647.7,0.1),(649.7,0.1),(651.5,0.24),(653.3,0.47),(655.3,0.02),(657.3,0.69),(659.0,0.76),(660.8,1.06),(662.8,1.61),(664.1,1.43),(665.8,1.09),(667.9,1.43),(669.9,1.8),(671.6,1.43),(672.9,0.24),(674.7,0.06),(676.7,0.17),(678.4,0.32),(680.0,2.02),(681.7,1.87),(683.5,1.13),(685.0,1.65),(686.8,1.8),(688.5,1.43),(690.0,2.09),(691.8,2.61),(693.5,1.58),(695.1,0.69),(696.8,2.9),(698.6,1.43),(700.1,0.84),(701.9,1.72),(703.6,2.17),(705.6,2.54),(707.4,3.2),(708.9,3.42),(710.2,2.46),(712.0,0.76),(713.7,0.47),(715.7,0.24),(717.0,0.84),(718.3,2.32),(719.5,0.98),(720.8,1.72),(722.0,3.72),(723.8,4.76),(726.1,1.58),(727.8,1.95),(729.3,1.28),(731.0,1.65),(732.8,1.8),(734.7,3.65),(736.5,3.5),(738.5,2.17),(740.2,1.43),(742.2,0.76),(743.9,2.17),(745.9,0.61),(747.6,2.39),(749.1,1.43),(751.3,0.47),(753.3,1.43),(755.3,3.79),(757.0,0.84),(759.0,2.32),(760.7,2.17),(763.2,1.95),(764.9,1.72),(766.4,0.69),(768.1,0.24),(769.9,0.91),(771.4,1.43),(773.1,2.76),(774.8,2.61),(776.8,1.87),(778.8,3.2),(780.3,3.79),(781.5,6.57),(782.5,6.01),(783.7,2.46),(785.5,2.83),(786.7,1.43),(788.7,0.91),(790.4,1.13),(792.1,0.76),(793.6,0.54),(795.4,0.47),(797.1,0.54),(799.1,0.69),(800.3,1.58),(801.5,3.61),(802.8,3.05),(804.0,1.58),(805.7,2.76),(807.2,1.58),(808.5,1.13),(810.2,4.39),(811.4,7.42),(812.7,6.75),(813.9,5.13),(815.2,2.17),(816.4,1.06),(817.6,5.13),(818.9,2.9),(820.1,1.32),(821.8,0.98),(823.3,0.47),(825.0,0.24),(826.8,0.61),(828.3,0.69),(830.0,4.5),(831.2,3.79),(832.5,1.65),(834.2,0.69),(836.2,1.43),(837.9,3.05),(839.1,2.17),(840.6,0.91),(842.4,0.32),(844.1,0.54),(846.1,0.47),(848.6,0.54),(850.3,0.69),(852.3,1.58),(854.0,2.17),(856.0,3.65),(857.7,3.91),(858.9,2.54),(860.4,2.76),(862.2,0.91),(863.9,1.5),(865.9,1.43),(867.8,1.43),(869.6,0.69),(871.3,0.47),(873.3,0.76),(875.3,0.91),(877.0,0.98),(878.7,1.21),(880.2,0.54),(882.0,0.61),(883.7,0.47),(885.7,0.84),(887.4,1.21),(888.9,0.69),(890.6,1.43),(892.3,1.8),(893.8,2.09),(895.6,1.06),(897.3,0.76),(898.8,1.06),(900.5,0.54),(902.2,1.43),(904.2,1.72),(905.9,0.17),(907.9,0.98),(909.7,1.21),(911.6,1.43),(913.4,1.35),(915.3,1.13),(916.6,1.43),(918.6,0.76),(920.3,0.17),(922.0,0.61),(923.5,0.39),(925.2,0.06),(927.2,0.1),(928.9,0.06),(930.9,0.17),(932.7,0.02),(934.4,0.02),(935.9,0.84),(937.6,1.09),(939.4,0.84),(940.8,0.02),(942.6,0.02),(945.0,0.02),(947.5,0.06),(950.0,0.02),(952.5,0.06),(954.4,0.13),(956.2,0.02),(958.6,0.17),(960.6,0.1),(962.8,0.1),(964.8,0.06),(967.3,0.06),(969.8,0.1),(972.3,0.06),(974.7,0.1),(977.2,0.06),(979.7,0.17),(981.4,0.69),(982.6,1.87),(983.9,1.87),(985.1,0.61),(986.6,0.39),(988.3,0.17),(990.1,0.1),(991.6,0.47),(993.3,0.1),(995.0,0.17),(997.0,0.17),(998.7,0.24),(1000.2,0.1),(1001.9,0.02),(1004.4,0.06),(1006.9,0.1),(1009.4,0.1),(1011.3,0.39),(1013.1,0.47),(1014.8,0.54),(1016.3,0.24),(1018.0,0.47),(1019.7,0.1),(1021.7,0.13),(1023.7,0.24),(1025.4,0.84),(1027.2,0.61),(1028.7,0.76),(1030.4,1.06),(1032.1,1.28),(1034.1,1.72),(1036.1,1.8),(1037.8,1.72),(1039.5,2.09),(1041.0,1.43),(1042.8,0.32),(1044.5,0.98),(1046.0,0.24),(1047.7,0.69),(1049.4,0.39),(1050.9,0.17),(1052.6,0.47),(1054.4,0.69),(1055.9,1.65),(1057.1,1.43),(1058.3,1.8),(1059.3,3.13),(1060.8,1.06),(1062.6,0.98),(1064.3,1.87),(1065.8,3.65),(1067.5,2.17),(1069.2,0.69),(1071.2,1.8),(1073.2,2.54),(1074.9,2.98),(1076.7,3.94),(1078.1,4.46),(1079.6,5.13),(1081.1,4.24),(1082.3,2.46),(1083.6,1.43),(1084.8,0.69),(1086.5,1.58),(1088.0,2.54),(1089.8,2.83),(1091.5,1.43),(1093.0,0.91),(1094.7,1.43),(1096.5,0.69),(1097.9,0.91),(1099.6,1.8),(1100.9,1.8),(1102.6,0.54),(1104.1,0.47),(1105.8,0.69),(1107.8,0.69),(1110.0,0.98)]

measS = [(11.3,2.54),(12.6,2.5),(13.9,2.17),(15.6,1.5),(16.9,2.24),(18.4,2.57),(19.7,2.54),(20.9,1.65),(22.2,1.8),(23.4,3.28),(24.7,4.16),(26.0,5.27),(27.2,4.09),(28.2,1.8),(29.5,2.65),(30.7,2.54),(32.0,1.95),(45.0,None),(61.7,4.16),(62.5,2.54),(63.5,0.69),(64.8,0.98),(66.0,1.32),(67.3,0.61),(68.5,0.54),(70.1,2.9),(71.1,3.24),(72.3,3.42),(73.6,2.17),(74.6,2.98),(75.9,3.87),(76.9,3.65),(78.1,2.17),(79.4,1.69),(80.6,1.65),(81.9,1.43),(83.2,1.72),(84.4,2.46),(86.2,2.9),(87.7,2.9),(88.9,1.95),(90.2,1.43),(91.5,0.69),(92.7,0.69),(94.5,2.17),(95.8,2.9),(97.0,2.94),(98.3,2.54),(99.5,1.28),(100.8,2.17),(102.0,2.76),(103.3,2.02),(104.6,1.13),(105.8,2.17),(107.1,2.83),(108.4,3.2),(109.6,2.02),(110.9,2.61),(112.1,3.72),(113.4,2.32),(114.7,1.5),(115.9,4.02),(117.2,5.13),(118.4,6.05),(119.7,3.79),(121.0,4.61),(122.2,2.9),(123.5,0.24),(124.7,0.69),(126.0,1.06),(127.3,1.65),(128.5,2.09),(130.0,2.09),(131.5,2.54),(133.6,2.9),(134.8,2.32),(136.1,1.28),(137.8,1.8),(139.4,3.2),(141.1,3.94),(142.4,3.35),(143.6,2.17),(144.9,0.98),(146.7,0.91),(148.2,0.54),(149.4,0.61),(151.2,1.43),(152.5,2.17),(153.7,1.87),(155.0,2.09),(156.2,2.02),(157.5,2.54),(158.8,2.46),(160.0,2.68),(161.3,2.54),(162.5,3.13),(163.8,2.54),(165.8,0.54),(167.6,0.32),(168.8,0.69),(170.1,0.84),(171.9,1.87),(173.1,2.39),(174.4,2.17),(175.6,1.8),(176.9,1.21),(178.2,0.76),(179.4,0.47),(180.7,-0.09),(182.2,-0.05),(184.0,0.24),(185.7,0.36),(187.2,0.17),(189.0,0.32),(190.8,0.24),(192.3,1.06),(193.5,1.28),(194.8,0.54),(196.0,0.39),(197.3,0.69),(198.6,0.69),(200.3,0.76),(201.6,0.54),(203.1,0.69),(204.6,0.98),(205.9,1.46),(207.1,1.35),(208.4,1.46),(209.7,0.69),(210.9,0.02),(212.4,-0.05),(214.2,0.13),(216.0,0.24),(217.5,0.36),(218.7,0.17),(220.0,-0.05),(221.8,-0.09),(223.8,0.0),(225.5,0.02),(227.3,0.0),(229.3,-0.09),(250.0,None),(282.8,1.76),(284.3,1.35),(285.8,0.98),(287.3,1.43),(289.3,1.65),(290.6,1.13),(291.8,0.06),(293.6,0.32),(295.4,0.61),(296.6,0.02),(297.6,-0.13),(298.6,1.58),(300.4,2.17),(301.9,2.32),(303.7,2.17),(305.0,2.32),(306.2,2.46),(307.4,2.32),(309.2,1.8),(310.5,1.58),(312.0,1.87),(313.2,1.21),(314.5,1.43),(316.3,1.21),(318.0,1.06),(319.5,0.69),(321.3,0.76),(323.1,0.69),(324.6,0.76),(326.3,1.13),(330.0,None),(468.8,2.02),(470.5,2.02),(471.8,4.83),(473.1,4.9),(474.3,7.2),(475.8,7.75),(477.1,7.27),(478.4,7.2),(479.6,5.87),(480.6,3.79),(482.1,3.65),(483.4,2.9),(484.7,1.98),(485.9,1.43),(486.9,1.06),(487.7,1.69),(488.9,0.69),(490.7,2.17),(492.2,2.9),(494.0,2.54),(495.2,3.72),(496.5,2.9),(497.7,3.79),(498.5,4.87),(499.5,3.65),(501.0,2.09),(502.3,1.72),(503.6,1.58),(504.8,1.28),(506.1,0.69),(507.8,1.06),(509.1,0.69),(510.9,1.06),(512.4,1.06),(514.1,1.58),(515.4,0.69),(516.7,0.98),(518.7,1.35),(520.4,1.87),(521.7,1.39),(522.9,1.87),(524.2,1.06),(525.5,0.84),(527.2,0.69),(529.3,0.61),(531.0,0.69),(532.3,1.32),(533.5,0.47),(534.8,-0.13),(536.8,-0.16),(538.8,-0.05),(540.6,-0.16),(542.4,-0.05),(543.9,-0.13),(545.6,0.1),(546.9,0.47),(548.2,0.54),(549.4,0.1),(551.2,0.54),(552.7,0.24),(554.0,0.47),(555.2,0.69),(557.0,0.32),(558.7,0.02),(560.3,0.32),(562.0,0.1),(563.8,0.39),(565.0,0.17),(566.6,0.76),(567.8,0.32),(569.1,0.02),(570.3,0.1),(571.6,0.69),(572.9,0.84),(574.1,0.61),(575.4,-0.13),(577.1,-0.05),(578.9,0.17),(580.9,0.02),(582.7,0.1),(584.2,0.32),(586.0,0.39),(587.2,0.47),(589.0,0.24),(590.5,0.1),(592.3,0.0),(594.0,0.32),(595.3,0.84),(596.5,0.91),(597.8,0.47),(599.3,0.69),(600.6,0.54),(602.3,0.39),(603.6,0.69),(604.9,0.54),(606.1,0.17),(607.9,0.24),(609.4,0.61),(610.7,0.32),(612.0,0.54),(613.7,0.17),(615.4,0.54),(617.0,0.84),(618.7,0.76),(620.5,0.54),(622.0,0.61),(623.8,0.84),(625.5,0.61),(627.0,0.76),(628.8,0.98),(630.5,0.76),(632.1,0.24),(633.8,0.98),(635.1,0.69),(636.9,0.84),(638.4,1.13),(640.1,1.13),(641.4,0.91),(642.7,0.47),(644.4,-0.05),(645.9,0.17),(647.7,0.32),(649.5,0.1),(651.0,0.39),(652.7,0.47),(654.8,0.17),(656.5,0.69),(658.3,1.06),(659.8,1.65),(661.6,1.72),(663.3,1.69),(664.8,1.06),(666.6,1.35),(668.4,1.06),(669.9,0.98),(671.1,0.39),(672.9,-0.13),(674.7,-0.16),(676.7,0.24),(678.4,0.47),(680.0,2.17),(681.7,2.32),(683.0,1.43),(684.2,2.32),(685.5,1.06),(686.8,1.8),(688.0,2.09),(689.3,2.83),(690.5,2.76),(691.8,0.1),(693.1,0.47),(694.3,0.69),(695.6,0.47),(697.6,1.43),(699.4,1.95),(700.6,1.87),(701.9,2.09),(703.1,2.32),(704.4,0.69),(705.6,2.02),(706.9,2.68),(708.2,3.94),(709.4,4.39),(710.7,2.9),(712.0,1.43),(713.7,0.69),(715.7,0.39),(717.0,0.69),(718.3,1.43),(719.5,2.54),(720.8,2.9),(722.0,3.65),(723.8,3.87),(725.1,2.17),(726.3,1.5),(727.6,3.94),(728.8,1.06),(730.1,1.06),(731.6,2.83),(732.9,0.84),(734.1,0.76),(735.9,2.17),(737.2,3.65),(738.4,2.54),(739.7,1.43),(740.9,2.17),(742.2,1.43),(743.5,0.69),(744.7,2.17),(746.5,0.91),(748.0,3.02),(749.8,3.09),(751.5,1.43),(752.6,2.9),(754.5,1.43),(757.0,2.0),(760.0,4.53),(762.0,2.17),(765.0,3.39),(766.9,0.24),(769.9,3.05),(773.1,4.76),(775.6,2.9),(778.1,4.68),(779.8,3.79),(783.0,6.3),(784.2,2.54),(786.0,5.68),(788.4,2.39),(791.2,3.76),(793.6,1.06),(795.4,1.35),(800.0,None),(837.4,5.87),(838.7,6.2),(839.9,5.94),(841.1,6.12),(842.9,6.01),(844.1,5.5),(844.8,2.9),(846.1,2.39),(847.8,2.9),(849.3,2.17),(850.5,1.13),(852.3,1.8),(853.5,3.2),(854.8,3.28),(856.0,2.17),(857.2,1.06),(858.5,0.32),(859.7,3.46),(860.9,2.17),(862.6,1.06),(863.9,3.5),(865.1,3.79),(866.4,2.9),(868.3,2.98),(870.1,0.69),(872.1,1.06),(873.8,1.35),(875.3,1.8),(877.0,2.46),(878.7,2.24),(880.2,1.8),(882.0,2.02),(883.7,1.8),(885.7,2.39),(887.4,1.95),(888.9,1.43),(890.6,2.46),(892.3,1.43),(893.8,0.98),(895.6,0.54),(897.3,1.21),(898.8,2.32),(900.5,2.02),(902.2,1.87),(904.2,1.87),(905.9,1.06),(907.9,0.84),(909.9,1.06),(911.6,0.69),(913.4,1.06),(915.3,1.5),(917.1,1.43),(919.1,0.69),(920.3,0.0),(922.0,0.17),(924.0,0.02),(926.5,-0.13),(929.0,-0.05),(931.4,0.02),(933.4,0.1),(935.1,0.47),(936.9,1.13),(938.4,1.13),(940.1,0.76),(941.8,-0.13),(943.8,-0.05),(945.8,-0.16),(947.5,-0.05),(949.5,-0.13),(951.2,-0.09),(953.0,0.1),(954.9,-0.16),(956.9,-0.13),(958.6,-0.16),(960.4,-0.13),(962.4,-0.05),(964.1,0.17),(965.6,0.39),(967.3,0.39),(968.5,0.02),(969.8,0.0),(972.0,None),(973.5,0.98),(975.2,1.13),(976.7,1.06),(978.4,1.35),(979.7,1.54),(980.9,1.06),(982.6,1.43),(984.1,0.1),(985.9,-0.13),(987.6,0.32),(989.1,0.32),(990.8,-0.13),(992.6,0.1),(994.0,0.32),(995.7,0.47),(997.0,0.54),(998.7,0.58),(1000.2,0.47),(1001.9,0.1),(1003.2,-0.05),(1004.4,0.39),(1005.7,-0.05),(1007.4,-0.13),(1009.4,-0.13),(1011.3,0.1),(1013.1,0.47),(1014.8,0.39),(1016.8,0.17),(1018.5,-0.05),(1020.5,0.02),(1022.2,0.1),(1023.7,0.24),(1024.9,0.84),(1026.2,1.13),(1027.4,0.17),(1028.7,0.02),(1030.4,1.06),(1031.6,0.91),(1032.9,1.58),(1034.6,1.95),(1036.1,1.95),(1037.8,2.35),(1039.0,2.17),(1040.3,1.72),(1041.5,1.06),(1043.3,1.28),(1044.5,1.35),(1046.0,0.61),(1047.7,1.06),(1049.4,0.76),(1050.9,0.54),(1052.6,1.09),(1054.4,0.84),(1055.9,1.5),(1057.1,1.21),(1058.3,1.06),(1060.1,0.84),(1061.3,2.46),(1062.6,2.54),(1063.8,1.87),(1065.8,0.69),(1067.5,0.69),(1068.7,-0.09),(1070.0,0.69),(1071.7,1.8),(1073.7,2.9),(1075.7,3.87),(1077.4,4.53),(1078.6,4.39),(1080.4,4.68),(1081.6,2.9),(1083.6,2.17),(1084.8,1.65),(1086.0,2.98),(1087.3,3.02),(1089.0,3.5),(1090.3,2.54),(1091.7,0.91),(1093.5,1.72),(1095.2,1.58),(1096.7,0.98),(1098.4,2.02),(1099.6,2.54),(1101.4,3.76),(1102.6,1.43),(1103.4,1.58)]

titles = ["5m depth", "20m depth", "5m depth - 20m depth"]
ylabels = ["Temperature (° C)", "Temperature (° C)", "Stratification index (° C)"]
series_labels = ["Measured", "Modelled"]
year_labels = ["2009", "2010", "2011"]
month_letters = ["J", "F", "M", "A", "M", "J", "J", "A", "S", "O", "N", "D"]

# ---------------- helpers ----------------
BASE = dt.date(2008, 11, 1)


def unpack(pts):
    d = np.array([p[0] for p in pts], dtype=float)
    v = np.array([np.nan if p[1] is None else p[1] for p in pts], dtype=float)
    return d, v


def day_of(date):
    return (date - BASE).days


month_days, month_labs = [], []
y, m = 2008, 11
while (y, m) <= (2011, 11):
    month_days.append(day_of(dt.date(y, m, 1)))
    month_labs.append(month_letters[m - 1])
    m += 1
    if m > 12:
        m = 1
        y += 1

XLIM = (-14.4, 1110.8)
GRAY = (0.15, 0.15, 0.15)
FS = 16

fig = plt.figure(figsize=(4224 / 300, 3232 / 300), dpi=300)
left, width = 0.05433, 0.94449
rects = [(left, 0.69864, width, 0.27574),
         (left, 0.37794, width, 0.27583),
         (left, 0.05755, width, 0.27562)]

panels = [(meas5, mod5, (8, 22), np.arange(8, 23, 2)),
          (meas20, mod20, (8, 22), np.arange(8, 23, 2)),
          (measS, modS, (-1, 10), np.arange(0, 11, 2))]

axes = []
for i, (rect, (meas, mod, ylim, yt)) in enumerate(zip(rects, panels)):
    ax = fig.add_axes(rect)
    axes.append(ax)
    dm, vm = unpack(meas)
    dd, vd = unpack(mod)
    ax.plot(dm, vm, color=(1, 0, 0), lw=2.5, label=series_labels[0], zorder=3)
    ax.plot(dd, vd, color=(0, 0, 1), lw=2.5, label=series_labels[1], zorder=4)
    ax.set_xlim(*XLIM)
    ax.set_ylim(*ylim)
    ax.set_yticks(yt)
    ax.set_xticks(month_days)
    if i == 2:
        ax.set_xticklabels(month_labs)
    else:
        ax.set_xticklabels([])
    ax.tick_params(axis='both', which='major', direction='in', length=9.6, width=0.8,
                   color=GRAY, labelcolor=GRAY, labelsize=FS, top=True, right=True)
    ax.tick_params(axis='x', pad=10.5)
    ax.tick_params(axis='y', pad=8)
    for sp in ax.spines.values():
        sp.set_color(GRAY)
        sp.set_linewidth(0.9)
    ax.grid(True, color=(0.80, 0.80, 0.80), linestyle=(0, (1, 2.2)), linewidth=0.7)
    ax.set_axisbelow(True)
    ax.set_title(titles[i], fontsize=18, fontweight='bold', pad=3)
    ax.set_ylabel(ylabels[i], fontsize=22, color=GRAY)
    ax.yaxis.set_label_coords(-0.0345, 0.5)

leg = axes[0].legend(loc='upper right', bbox_to_anchor=(0.981, 0.921), borderaxespad=0,
                     fontsize=15, handlelength=2.5, handletextpad=0.35, labelspacing=0.25,
                     borderpad=0.3, fancybox=False, framealpha=1, edgecolor=GRAY)
leg.get_frame().set_linewidth(0.9)
for t in leg.get_texts():
    t.set_color('black')

trans = blended_transform_factory(axes[2].transData, axes[2].transAxes)
for yl in year_labels:
    xd = day_of(dt.date(int(yl), 6, 15))
    axes[2].text(xd, -0.178, yl, transform=trans, ha='center', va='center',
                 fontsize=FS, color=GRAY)

fig.savefig("out.png", dpi=300)
